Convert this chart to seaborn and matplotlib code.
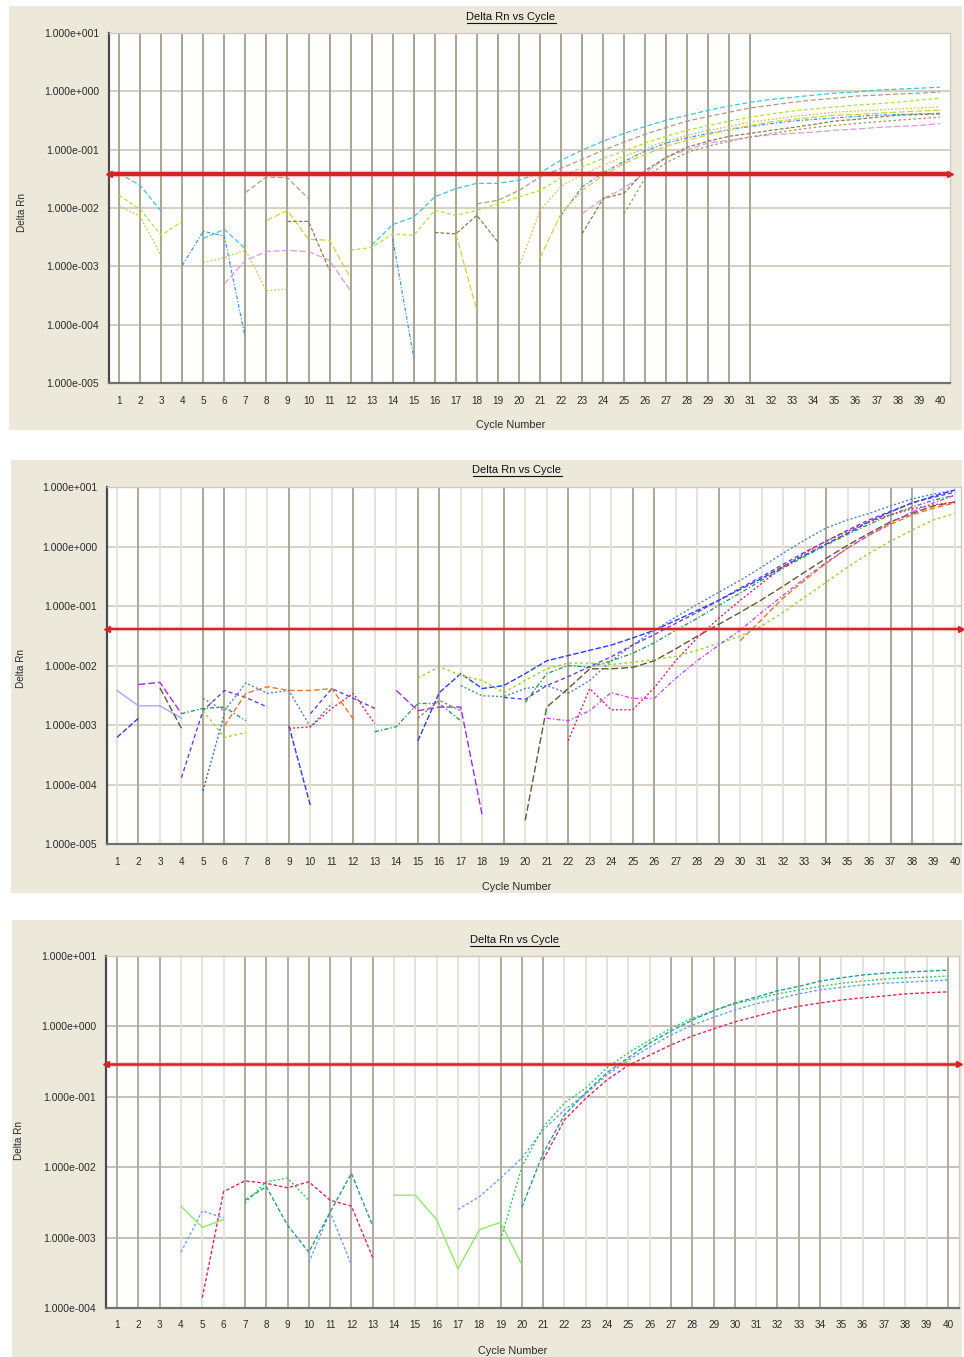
import numpy as np
import pandas as pd
import matplotlib
matplotlib.use("Agg")
import matplotlib.pyplot as plt
from matplotlib.patches import Rectangle
from matplotlib.lines import Line2D
from matplotlib.ticker import FixedLocator, FuncFormatter, NullLocator
import seaborn as sns

CYCLES = list(range(1, 41))

# ---------------- Run 1: Delta Rn per well, keyed by cycle ----------------
run1_threshold = 0.039
r1_cyan = {1: 0.039, 2: 0.0245, 3: 0.0088, 5: 0.0030, 6: 0.0043, 7: 0.0020,
           13: 0.0023, 14: 0.0052, 15: 0.0070, 16: 0.0155, 17: 0.0215, 18: 0.0265,
           19: 0.0265, 20: 0.030, 21: 0.040, 22: 0.066, 23: 0.098, 24: 0.14, 25: 0.19,
           26: 0.25, 27: 0.32, 28: 0.39, 29: 0.475, 30: 0.56, 31: 0.65, 32: 0.73,
           33: 0.79, 34: 0.86, 35: 0.93, 36: 0.97, 37: 1.05, 38: 1.09, 39: 1.13, 40: 1.18}
r1_blue = {4: 0.00103, 5: 0.0040, 6: 0.0033, 7: 5.8e-5, 14: 0.0030, 15: 2.7e-5,
           22: 0.0075, 23: 0.023, 24: 0.040, 25: 0.063, 26: 0.095, 27: 0.13, 28: 0.16,
           29: 0.19, 30: 0.22, 31: 0.25, 32: 0.28, 33: 0.31, 34: 0.33, 35: 0.35,
           36: 0.37, 37: 0.39, 38: 0.40, 39: 0.41, 40: 0.42}
r1_lime = {1: 0.0165, 2: 0.0095, 3: 0.0034, 4: 0.0059, 12: 0.0019, 13: 0.0021,
           14: 0.0036, 15: 0.0034, 16: 0.0091, 17: 0.0075, 18: 0.0091, 19: 0.0118,
           20: 0.0155, 21: 0.020, 22: 0.033, 23: 0.050, 24: 0.071, 25: 0.095, 26: 0.13,
           27: 0.17, 28: 0.215, 29: 0.26, 30: 0.31, 31: 0.36, 32: 0.41, 33: 0.46,
           34: 0.50, 35: 0.54, 36: 0.58, 37: 0.61, 38: 0.65, 39: 0.71, 40: 0.76}
r1_grey = {7: 0.0184, 8: 0.034, 9: 0.033, 10: 0.0145, 18: 0.0118, 19: 0.0135,
           20: 0.020, 21: 0.034, 22: 0.048, 23: 0.068, 24: 0.098, 25: 0.135, 26: 0.185,
           27: 0.24, 28: 0.31, 29: 0.37, 30: 0.44, 31: 0.52, 32: 0.58, 33: 0.65,
           34: 0.71, 35: 0.76, 36: 0.83, 37: 0.86, 38: 0.90, 39: 0.93, 40: 0.97}
r1_khaki = {1: 0.0108, 2: 0.0072, 3: 0.0015, 5: 0.00116, 6: 0.0014, 7: 0.0019,
            8: 0.00038, 9: 0.00041, 20: 0.00097, 21: 0.0091, 22: 0.0235, 23: 0.0375,
            24: 0.054, 25: 0.077, 26: 0.105, 27: 0.14, 28: 0.177, 29: 0.215, 30: 0.25,
            31: 0.30, 32: 0.33, 33: 0.37, 34: 0.40, 35: 0.44, 36: 0.46, 37: 0.475,
            38: 0.50, 39: 0.52, 40: 0.54}
r1_yellow = {8: 0.0061, 9: 0.0091, 10: 0.0029, 11: 0.0028, 12: 0.00063, 17: 0.0036,
             18: 0.000174, 21: 0.0014, 22: 0.0080, 23: 0.020, 24: 0.036, 25: 0.058,
             26: 0.083, 27: 0.115, 28: 0.145, 29: 0.18, 30: 0.225, 31: 0.26, 32: 0.30,
             33: 0.33, 34: 0.36, 35: 0.39, 36: 0.40, 37: 0.42, 38: 0.44, 39: 0.46, 40: 0.475}
r1_lavender = {6: 0.0005, 7: 0.00126, 8: 0.0018, 9: 0.00187, 10: 0.0018, 11: 0.00126,
               12: 0.00038, 23: 0.0080, 24: 0.0145, 25: 0.022, 26: 0.040, 27: 0.074,
               28: 0.10, 29: 0.13, 30: 0.145, 31: 0.165, 32: 0.18, 33: 0.19, 34: 0.20,
               35: 0.215, 36: 0.225, 37: 0.24, 38: 0.25, 39: 0.26, 40: 0.28}
r1_olive = {9: 0.0059, 10: 0.0059, 11: 0.00085, 16: 0.0038, 17: 0.0036, 18: 0.0075,
            19: 0.0026, 23: 0.0036, 24: 0.0145, 25: 0.018, 26: 0.044, 27: 0.074, 28: 0.11,
            29: 0.14, 30: 0.17, 31: 0.19, 32: 0.215, 33: 0.24, 34: 0.27, 35: 0.31,
            36: 0.33, 37: 0.36, 38: 0.39, 39: 0.40, 40: 0.41}
r1_sand = {25: 0.008, 26: 0.033, 27: 0.060, 28: 0.09, 29: 0.115, 30: 0.14, 31: 0.165,
           32: 0.19, 33: 0.215, 34: 0.24, 35: 0.26, 36: 0.28, 37: 0.30, 38: 0.32,
           39: 0.34, 40: 0.36}

# ---------------- Run 2 ----------------
run2_threshold = 0.041
r2_steel = {5: 0.0028, 6: 0.00174, 7: 0.0051, 8: 0.0034, 9: 0.0038, 10: 0.00093,
            11: 0.0023, 17: 0.0046, 18: 0.0031, 19: 0.0030, 20: 0.0041, 21: 0.0046,
            22: 0.0034, 23: 0.0056, 24: 0.012, 25: 0.022, 26: 0.039, 27: 0.065, 28: 0.106,
            29: 0.17, 30: 0.27, 31: 0.45, 32: 0.77, 33: 1.28, 34: 2.04, 35: 2.8, 36: 3.6,
            37: 4.8, 38: 6.3, 39: 7.6, 40: 8.9}
r2_blue = {1: 0.00062, 2: 0.0013, 9: 0.00097, 10: 4.4e-5, 15: 0.00054, 16: 0.0035,
           17: 0.0073, 18: 0.0041, 19: 0.0046, 20: 0.0073, 21: 0.012, 22: 0.0147,
           23: 0.018, 24: 0.022, 25: 0.029, 26: 0.039, 27: 0.057, 28: 0.084, 29: 0.124,
           30: 0.19, 31: 0.29, 32: 0.46, 33: 0.71, 34: 1.1, 35: 1.67, 36: 2.6, 37: 3.8,
           38: 5.4, 39: 7.0, 40: 8.9}
r2_green = {4: 0.00155, 5: 0.0019, 6: 0.0020, 7: 0.00118, 13: 0.00077, 14: 0.00094,
            15: 0.0023, 16: 0.0023, 17: 0.00118, 20: 0.0024, 21: 0.0073, 22: 0.010,
            23: 0.0093, 24: 0.012, 25: 0.016, 26: 0.024, 27: 0.039, 28: 0.062, 29: 0.102,
            30: 0.165, 31: 0.27, 32: 0.43, 33: 0.68, 34: 1.05, 35: 1.6, 36: 2.35, 37: 3.4,
            38: 4.6, 39: 6.0, 40: 7.3}
r2_purple = {2: 0.0048, 3: 0.0052, 4: 0.00155, 14: 0.0038, 15: 0.00174, 16: 0.0020,
             17: 0.0020, 18: 3.0e-5}
r2_violet = {4: 0.00013, 5: 0.00174, 6: 0.0038, 7: 0.0029, 8: 0.0020, 10: 0.00155,
             11: 0.0041, 12: 0.0028, 13: 0.0019, 19: 0.0029, 20: 0.0027, 21: 0.0046,
             22: 0.0065, 23: 0.0096, 24: 0.014, 25: 0.022, 26: 0.033, 27: 0.051, 28: 0.078,
             29: 0.124, 30: 0.20, 31: 0.31, 32: 0.50, 33: 0.80, 34: 1.23, 35: 1.88,
             36: 2.8, 37: 3.9, 38: 5.4, 39: 6.7, 40: 8.2}
r2_lilac = {1: 0.0038, 2: 0.0021, 3: 0.0021, 4: 0.0013}
r2_olive = {3: 0.0042, 4: 0.00088, 20: 2.5e-5, 21: 0.0020, 22: 0.0041, 23: 0.0088,
            24: 0.0088, 25: 0.0093, 26: 0.012, 27: 0.019, 28: 0.031, 29: 0.049, 30: 0.078,
            31: 0.127, 32: 0.215, 33: 0.37, 34: 0.63, 35: 1.05, 36: 1.67, 37: 2.6,
            38: 3.6, 39: 4.8, 40: 5.6}
r2_orange = {6: 0.00097, 7: 0.0034, 8: 0.0044, 9: 0.0038, 10: 0.0038, 11: 0.0041,
             12: 0.00125, 30: 0.026, 31: 0.059, 32: 0.136, 33: 0.27, 34: 0.52, 35: 0.94,
             36: 1.55, 37: 2.35, 38: 3.4, 39: 4.4, 40: 5.4}
r2_red = {9: 0.00088, 10: 0.00093, 11: 0.0019, 12: 0.0034, 13: 0.00105, 22: 0.00054,
          23: 0.0041, 24: 0.0018, 25: 0.0018, 26: 0.0042, 27: 0.012, 28: 0.029,
          29: 0.062, 30: 0.124, 31: 0.24, 32: 0.45, 33: 0.77, 34: 1.23, 35: 1.8,
          36: 2.6, 37: 3.4, 38: 4.3, 39: 5.0, 40: 5.6}
r2_lime = {5: 0.00174, 6: 0.00062, 7: 0.00075, 15: 0.0061, 16: 0.0096, 17: 0.0068,
           18: 0.0056, 19: 0.0035, 20: 0.0056, 21: 0.0088, 22: 0.011, 23: 0.011,
           24: 0.0104, 25: 0.0113, 26: 0.0126, 27: 0.0142, 28: 0.018, 29: 0.0235,
           30: 0.031, 31: 0.046, 32: 0.078, 33: 0.14, 34: 0.25, 35: 0.45, 36: 0.77,
           37: 1.23, 38: 1.88, 39: 2.8, 40: 3.6}
r2_magenta = {21: 0.0013, 22: 0.00118, 23: 0.00174, 24: 0.0035, 25: 0.0028, 26: 0.0028,
              27: 0.0061, 28: 0.012, 29: 0.022, 30: 0.039, 31: 0.078, 32: 0.151,
              33: 0.29, 34: 0.54, 35: 0.94, 36: 1.55, 37: 2.5, 38: 3.8, 39: 5.4, 40: 7.3}
r2_khaki = {15: 0.0013, 16: 0.0026, 17: 0.00174}
r2_slate = {5: 7.8e-5, 6: 0.00155}

# ---------------- Run 3 ----------------
run3_threshold = 0.29
r3_blue = {4: 0.00062, 5: 0.0024, 6: 0.0019, 10: 0.00044, 11: 0.0023, 12: 0.00041,
           17: 0.0025, 18: 0.0038, 19: 0.0070, 20: 0.0135, 21: 0.034, 22: 0.065,
           23: 0.11, 24: 0.204, 25: 0.333, 26: 0.51, 27: 0.755, 28: 1.04, 29: 1.35,
           30: 1.71, 31: 2.1, 32: 2.45, 33: 2.9, 34: 3.3, 35: 3.6, 36: 3.87, 37: 4.1,
           38: 4.25, 39: 4.4, 40: 4.56}
r3_green = {7: 0.0031, 8: 0.0062, 9: 0.0070, 10: 0.0034, 19: 0.00093, 20: 0.0101,
            21: 0.037, 22: 0.082, 23: 0.133, 24: 0.26, 25: 0.42, 26: 0.64, 27: 0.94,
            28: 1.31, 29: 1.67, 30: 2.1, 31: 2.45, 32: 2.9, 33: 3.29, 34: 3.7, 35: 4.1,
            36: 4.4, 37: 4.7, 38: 4.9, 39: 5.0, 40: 5.2}
r3_teal = {7: 0.0034, 8: 0.0053, 9: 0.0015, 10: 0.00062, 11: 0.0023, 12: 0.0082,
           13: 0.00146, 20: 0.0027, 21: 0.0158, 22: 0.055, 23: 0.115, 24: 0.22,
           25: 0.36, 26: 0.58, 27: 0.86, 28: 1.23, 29: 1.67, 30: 2.15, 31: 2.6, 32: 3.2,
           33: 3.7, 34: 4.4, 35: 4.9, 36: 5.37, 37: 5.7, 38: 5.9, 39: 6.1, 40: 6.3}
r3_red = {5: 0.00014, 6: 0.0045, 7: 0.0064, 8: 0.0059, 9: 0.0051, 10: 0.0062,
          11: 0.0034, 12: 0.0028, 13: 0.00052, 19: 0.00062, 21: 0.0127, 22: 0.047,
          23: 0.095, 24: 0.174, 25: 0.28, 26: 0.39, 27: 0.545, 28: 0.73, 29: 0.92,
          30: 1.16, 31: 1.39, 32: 1.67, 33: 1.93, 34: 2.15, 35: 2.37, 36: 2.55,
          37: 2.7, 38: 2.9, 39: 3.0, 40: 3.1}
r3_lime = {4: 0.0028, 5: 0.0014, 6: 0.0018, 14: 0.0040, 15: 0.0040, 16: 0.0018,
           17: 0.00036, 18: 0.00129, 19: 0.00165, 20: 0.00041}

# ---------------- styling ----------------
W, H = 964, 1357
BEIGE = "#ece9db"
TXT = "#2a2a2a"
FONT = ["Liberation Sans", "DejaVu Sans"]
plt.rcParams["font.family"] = FONT

# (name, data, colour, dash pattern)
wells1 = [("cyan", r1_cyan, "#3fc6d0", (4, 2)), ("blue", r1_blue, "#3c96f2", (3, 1.5, 1, 1.5)),
          ("lime", r1_lime, "#a8e33a", (3, 2)), ("grey", r1_grey, "#a7a07c", (4, 2)),
          ("khaki", r1_khaki, "#cbc354", (1.5, 1.5)), ("yellow", r1_yellow, "#d6ce3a", (5, 2)),
          ("lavender", r1_lavender, "#d69bdc", (5, 2)), ("olive", r1_olive, "#87824a", (3, 1.5)),
          ("sand", r1_sand, "#9c9664", (2, 2))]
wells2 = [("steel", r2_steel, "#4f86b8", (1.5, 1.5)), ("blue", r2_blue, "#2a3ef0", (4, 1.5)),
          ("green", r2_green, "#2f9a62", (3, 1.5, 1, 1.5)), ("purple", r2_purple, "#a02ee0", (5, 2)),
          ("violet", r2_violet, "#6a3fd0", (3, 2)), ("lilac", r2_lilac, "#a4a8f2", ""),
          ("olive", r2_olive, "#5d5b33", (5, 2)), ("orange", r2_orange, "#e6762c", (4, 2)),
          ("red", r2_red, "#e0285c", (1.5, 1.5)), ("lime", r2_lime, "#94d03a", (2, 2)),
          ("magenta", r2_magenta, "#c54ee6", (3, 1.5, 1, 1.5)), ("khaki", r2_khaki, "#8d8a5a", (2, 1.5)),
          ("slate", r2_slate, "#3b73a6", (1.5, 1.5))]
wells3 = [("blue", r3_blue, "#6d9ff7", (2, 1.5)), ("green", r3_green, "#35c865", (1.5, 1.5)),
          ("teal", r3_teal, "#2d9898", (3, 1.5)), ("red", r3_red, "#d92c5c", (2.5, 1.5)),
          ("lime", r3_lime, "#8ee86a", "")]

P2_DARK = [2, 5, 6, 9, 12, 15, 16, 19, 22, 25, 26, 29, 34, 37, 38]
P3_DARK = [1, 2, 3, 7, 8, 9, 10, 11, 12, 13, 19, 20, 21, 27, 28, 29, 30, 32, 33, 34, 40]

panels = [
    dict(wells=wells1, thr=run1_threshold, bg=(9, 6, 962, 430), box=(109, 33, 950, 383),
         xlim=(0.52, 40.48), ylim=(1e-5, 1e1), dark=list(range(1, 32)), light=[],
         dark_col="#aba394", hcol="#d3cfc3",
         title=(511, 17), xlab=(511, 425), ylab=(22, 213), thr_lw=3.0, lw=0.9),
    dict(wells=wells2, thr=run2_threshold, bg=(11, 460, 962, 893), box=(107, 487, 961, 844),
         xlim=(0.535, 40.28), ylim=(1e-5, 1e1),
         dark=P2_DARK, light=[c for c in CYCLES if c not in P2_DARK],
         dark_col="#aea697", hcol="#d6d2c7",
         title=(517, 470), xlab=(517, 887), ylab=(21, 668), thr_lw=1.6, lw=1.0),
    dict(wells=wells3, thr=run3_threshold, bg=(12, 920, 962, 1357), box=(106, 956, 959, 1308),
         xlim=(0.48, 40.52), ylim=(1e-4, 1e1),
         dark=P3_DARK, light=[c for c in CYCLES if c not in P3_DARK],
         dark_col="#b3ac9e", hcol="#c6c1b5",
         title=(514, 940), xlab=(513, 1351), ylab=(19, 1140), thr_lw=1.8, lw=1.0),
]


def long_table(wells):
    rows = []
    for name, pts, _, _ in wells:
        seg, prev = 0, False
        for c in CYCLES:
            ok = c in pts
            if ok and not prev:
                seg += 1
            if ok:
                rows.append((name, f"{name}-{seg}", c, pts[c]))
            prev = ok
    return pd.DataFrame(rows, columns=["well", "segment", "cycle", "rn"])


def sci_label(v, _pos):
    e = int(round(np.log10(v)))
    return f"1.000e{'+' if e >= 0 else '-'}{abs(e):03d}"


fig = plt.figure(figsize=(W / 100, H / 100), dpi=100)
fig.patch.set_facecolor("white")
titles = []

for p in panels:
    x0, y0, x1, y1 = p["bg"]
    fig.add_artist(Rectangle((x0 / W, 1 - y1 / H), (x1 - x0) / W, (y1 - y0) / H,
                             transform=fig.transFigure, facecolor=BEIGE, edgecolor="none",
                             zorder=-10))
    l, t, r, b = p["box"]
    ax = fig.add_axes([l / W, 1 - b / H, (r - l) / W, (b - t) / H])
    ax.set_facecolor("white")
    ax.set_yscale("log")
    ax.set_xlim(*p["xlim"])
    ax.set_ylim(*p["ylim"])

    decades = [10.0 ** k for k in range(int(np.log10(p["ylim"][0])), int(np.log10(p["ylim"][1])) + 1)]
    for d in decades:
        ax.axhline(d, color=p["hcol"], lw=1.4, zorder=0.5)
    for c in p["light"]:
        ax.axvline(c, color="#e4e1d8", lw=1.3, zorder=0.6)
    for c in p["dark"]:
        ax.axvline(c, color=p["dark_col"], lw=1.4, zorder=0.7)

    df = long_table(p["wells"])
    palette = {n: col for n, _, col, _ in p["wells"]}
    dashes = {n: ds for n, _, _, ds in p["wells"]}
    order = [n for n, _, _, _ in p["wells"]]
    sns.lineplot(data=df, x="cycle", y="rn", hue="well", style="well", units="segment",
                 estimator=None, hue_order=order, style_order=order, palette=palette,
                 dashes=dashes, linewidth=p["lw"], legend=False, ax=ax, zorder=2)

    # threshold with arrow heads at both ends
    xl, xr = p["xlim"]
    ax.plot([xl, xr], [p["thr"], p["thr"]], color="#e86a6a", lw=p["thr_lw"] + 1.6,
            alpha=0.35, zorder=3, solid_capstyle="butt")
    ax.plot([xl, xr], [p["thr"], p["thr"]], color="#d42424", lw=p["thr_lw"], zorder=3.1,
            solid_capstyle="butt")
    ax.plot([xl], [p["thr"]], marker="<", ms=4, color="#d42424", clip_on=False, zorder=3.2)
    ax.plot([xr], [p["thr"]], marker=">", ms=4, color="#d42424", clip_on=False, zorder=3.2)

    ax.xaxis.set_major_locator(FixedLocator(CYCLES))
    ax.xaxis.set_major_formatter(FuncFormatter(lambda v, _p: f"{int(round(v))}"))
    ax.yaxis.set_major_locator(FixedLocator(decades))
    ax.yaxis.set_minor_locator(NullLocator())
    ax.yaxis.set_major_formatter(FuncFormatter(sci_label))
    ax.tick_params(axis="x", length=0, labelsize=7.2, pad=9, colors=TXT)
    ax.tick_params(axis="y", length=0, labelsize=7.5, pad=7, colors=TXT)
    ax.set_xlabel("")
    ax.set_ylabel("")
    ax.grid(False)

    ax.spines["left"].set(color="#4a4a4a", lw=1.6)
    ax.spines["bottom"].set(color="#707070", lw=1.6)
    ax.spines["top"].set(color="#cfcabe", lw=1.0)
    ax.spines["right"].set(color="#cfcabe", lw=1.0)

    tx, ty = p["title"]
    titles.append(fig.text(tx / W, 1 - ty / H, "Delta Rn vs Cycle", ha="center", va="center",
                           fontsize=8, color="#111111"))
    lx, ly = p["xlab"]
    fig.text(lx / W, 1 - ly / H, "Cycle Number", ha="center", va="center", fontsize=7.8,
             color=TXT)
    yx, yy = p["ylab"]
    fig.text(yx / W, 1 - yy / H, "Delta Rn", ha="center", va="center", rotation=90,
             fontsize=7.2, color=TXT)

# underline the panel titles
fig.canvas.draw()
for t in titles:
    bb = t.get_window_extent()
    yline = (bb.y0 - 0.5) / fig.bbox.height
    fig.add_artist(Line2D([bb.x0 / fig.bbox.width, bb.x1 / fig.bbox.width], [yline, yline],
                          transform=fig.transFigure, color="#111111", lw=0.8))

fig.savefig("out.png", dpi=100)
